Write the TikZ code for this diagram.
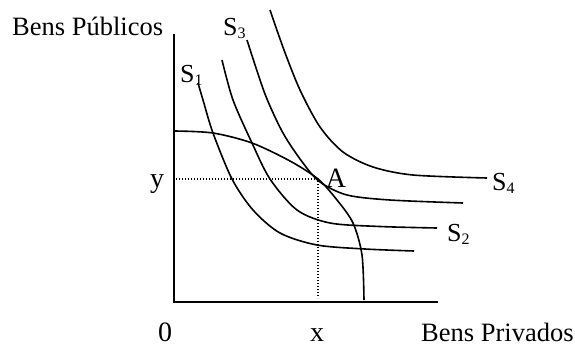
\documentclass[tikz,border=0pt]{standalone}
\usepackage{fontspec}
\setmainfont{Liberation Serif}
\newcommand\lblsub[1]{\raisebox{-0.3ex}{\fontsize{16}{16}\selectfont #1}}
\begin{document}
\begin{tikzpicture}[x=1pt,y=-1pt,
  axisline/.style={line width=2.2pt},
  curveline/.style={line width=1.6pt, smooth, tension=0.5},
  guideline/.style={line width=1.2pt, dash pattern=on 1.2pt off 1.8pt},
  bigtxt/.style={inner sep=0pt, font=\fontsize{28}{28}\selectfont},
  stxt/.style={inner sep=0pt, font=\fontsize{26}{26}\selectfont},
  axtxt/.style={inner sep=0pt, font=\fontsize{26.5}{26.5}\selectfont}]
\useasboundingbox (0,0) rectangle (575,346);
% axes
\coordinate (O) at (174,302);
\coordinate (Ytop) at (174,34);
\coordinate (Xend) at (438,302);
\draw[axisline] (Ytop) -- (O) -- (Xend);
% PPF
\draw[curveline] plot coordinates {(175,131) (213,133) (252,143) (290,161) (318,179) (337,200) (353,223) (362,255) (364,300)};
% indifference curves
\draw[curveline] plot coordinates {(198,83) (203,100) (213,133) (232,179) (253,210) (280,233) (317,245) (365,249) (414,251)};
\draw[curveline] plot coordinates {(222,60) (233,100) (252,143) (270,179) (297,210) (330,223) (380,226.5) (437,228)};
\draw[curveline] plot coordinates {(247,40) (265,94) (283,133) (303,163) (320,182) (347,195) (390,200) (463,203)};
\draw[curveline] plot coordinates {(270,10) (284,50) (300,90) (320,127) (343,152) (373,167) (413,175) (487,178)};
% point A and guides
\coordinate (A) at (318,179);
\coordinate (Ay) at (176,179);
\coordinate (Ax) at (318,298);
\draw[guideline] (Ay) -- (A) -- (Ax);
% labels
\node[axtxt, anchor=base west] (ylab) at (12,35) {Bens Públicos};
\node[axtxt, anchor=base west] (xlab) at (421,341) {Bens Privados};
\node[bigtxt, anchor=base] (zero) at (165,341) {0};
\node[bigtxt, anchor=base] (xval) at (317,341) {x};
\node[bigtxt, anchor=base] (yval) at (157,187) {y};
\node[bigtxt, anchor=base] (Alab) at (336,187) {A};
\node[stxt, anchor=base west] (s1) at (180,82) {S\lblsub{1}};
\node[stxt, anchor=base west] (s2) at (447,241) {S\lblsub{2}};
\node[stxt, anchor=base west] (s3) at (223,35) {S\lblsub{3}};
\node[stxt, anchor=base west] (s4) at (492,190) {S\lblsub{4}};
\end{tikzpicture}
\end{document}
